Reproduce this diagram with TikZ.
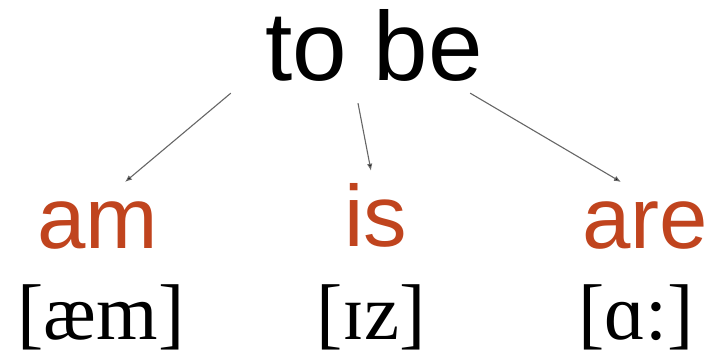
\documentclass[tikz,border=0pt]{standalone}
\usepackage{fontspec}
\setmainfont{Liberation Serif}
\newfontfamily\arialfont{Liberation Sans}
\usepackage{xcolor}
\usetikzlibrary{arrows.meta, positioning, calc}

\definecolor{verbred}{RGB}{192,68,30}

\begin{document}
\begin{tikzpicture}[x=1pt, y=1pt]
        \tikzstyle{head} = [anchor=base, inner sep=2pt, font=\arialfont\fontsize{98}{100}\selectfont]
        \tikzstyle{form} = [anchor=base, inner sep=2pt, text=verbred, font=\arialfont\fontsize{87}{90}\selectfont]
        \tikzstyle{ipa} = [anchor=base, inner sep=0pt, font=\fontsize{79}{82}\selectfont]
        \tikzstyle{arrow} = [line width=1.1pt, draw=black!60, -{Latex[length=7pt, width=5.5pt, fill=black]}]

        \useasboundingbox (0,0) rectangle (723,-357);

        % Infinitive
        \node (tobe) [head] at (374,-80) {to be};

        % Forms
        \node (am) [form] at (98,-248) {am};
        \node (is) [form] at (376,-246) {is};
        \node (are) [form] at (645,-248) {are};

        % Transcriptions
        \node (amipa) [ipa] at (101,-339) {[æm]};
        \node (isipa) [ipa] at (371,-339) {[ɪz]};
        \node (areipa) [ipa] at (636,-339) {[ɑ:]};

        % Arrows
        \draw [arrow] ([shift={(-32,-10)}]tobe.south west) -- ([shift={(27,17)}]am.north);
        \draw [arrow] ([shift={(-16,-20)}]tobe.south) -- ([shift={(-5,10)}]is.north);
        \draw [arrow] ([shift={(-15,-10)}]tobe.south east) -- ([shift={(-24,17)}]are.north);
\end{tikzpicture}
\end{document}
